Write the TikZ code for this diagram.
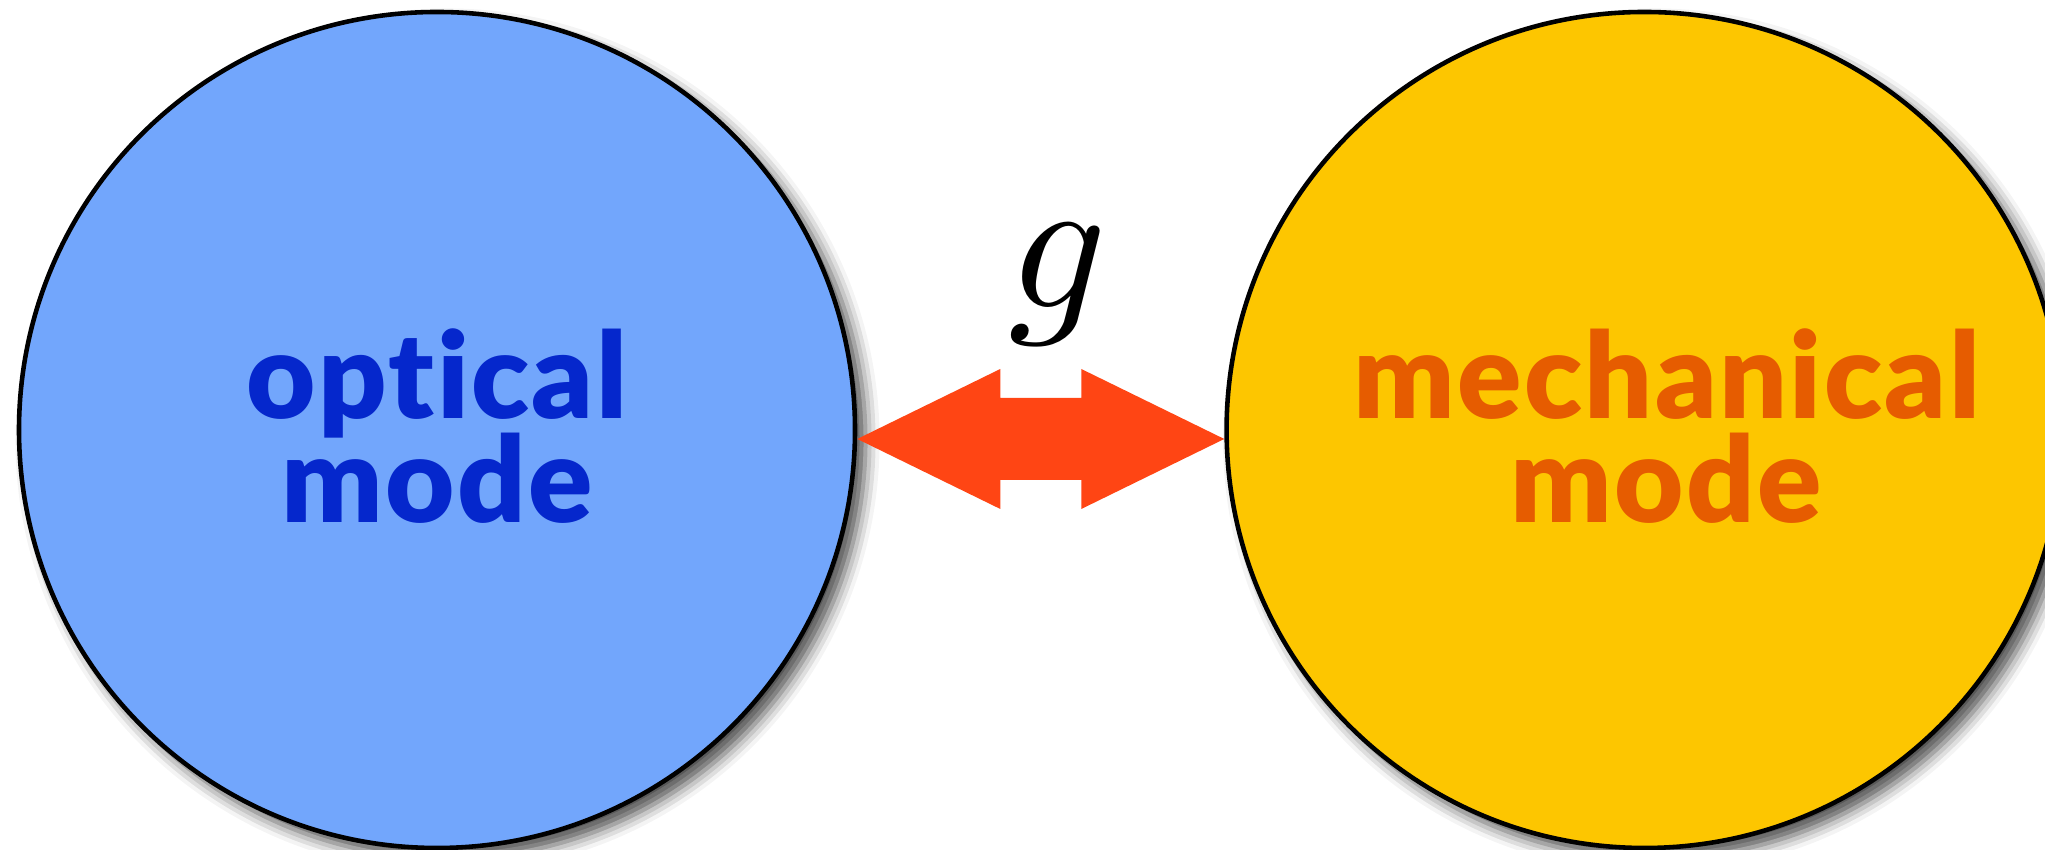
\documentclass[tikz,border=0pt]{standalone}
\usepackage{fontspec}
\newfontfamily\modefont{Lato Black}[Ligatures=NoCommon, LetterSpace=2]
\usetikzlibrary{positioning, calc, shadows.blur}

\definecolor{opticblue}{RGB}{114,166,252}
\definecolor{optictext}{RGB}{5,39,204}
\definecolor{mechyellow}{RGB}{253,198,0}
\definecolor{mechtext}{RGB}{230,92,0}
\definecolor{couplingred}{RGB}{255,69,20}

\begin{document}
\begin{tikzpicture}[
    mode/.style={circle, draw=black, line width=1.3pt,
                minimum size=8.36cm, inner sep=0pt,
                blur shadow={shadow xshift=3pt, shadow yshift=-3pt,
                             shadow blur radius=4pt, shadow opacity=70}},
    modetext/.style={align=center, inner sep=0pt,
                font=\modefont\fontsize{34}{29.6}\selectfont\setlength{\lineskiplimit}{-100pt}},
    coupling/.style={fill=couplingred},
]
\useasboundingbox (0,0) rectangle (20.45,8.5);

% optical mode links
\node[mode, fill=opticblue] (optical) at (4.37,4.20) {};
\node[modetext, text=optictext] (optical text) at ([yshift=0.04cm]optical.center)
    {optical\\mode};

% mechanical mode rechts
\node[mode, fill=mechyellow, right=3.67cm of optical] (mechanical) {};
\node[modetext, text=mechtext] (mechanical text) at ([xshift=0.22cm, yshift=0.04cm]mechanical.center)
    {mechanical\\mode};

% Kopplung
\coordinate (left tip) at ([yshift=-0.09cm]optical.east);
\coordinate (right tip) at ([yshift=-0.09cm]mechanical.west);
\fill[coupling] (left tip) -- ($(left tip)+(1.43,0.70)$) -- ($(left tip)+(1.43,0.41)$)
    -- ($(right tip)+(-1.43,0.41)$) -- ($(right tip)+(-1.43,0.70)$) -- (right tip)
    -- ($(right tip)+(-1.43,-0.70)$) -- ($(right tip)+(-1.43,-0.41)$)
    -- ($(left tip)+(1.43,-0.41)$) -- ($(left tip)+(1.43,-0.70)$) -- cycle;
\node[scale=5.5, anchor=base] (g) at (10.58,5.42) {$g$};

\end{tikzpicture}
\end{document}
